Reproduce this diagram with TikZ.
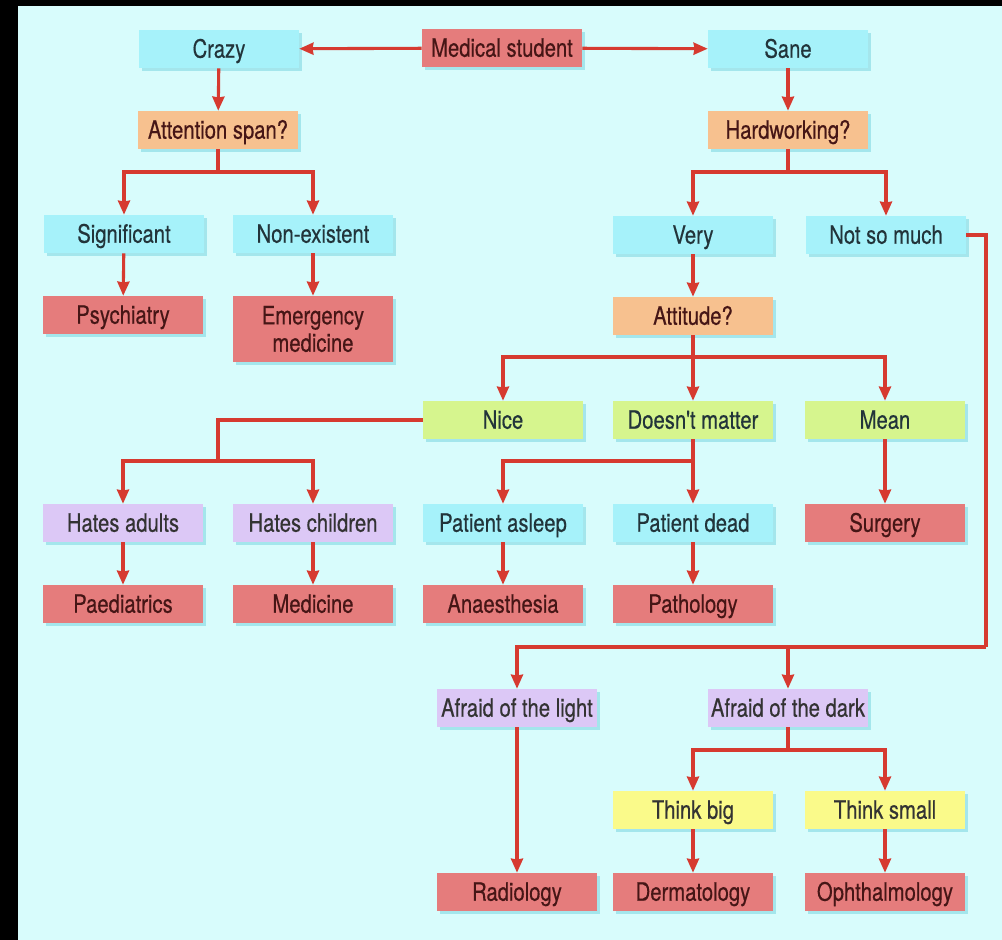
\documentclass[tikz,border=0pt]{standalone}
\usepackage{fontspec}
\setmainfont{TeX Gyre Heros}[FakeStretch=0.8, FakeBold=0.4, Ligatures=TeXOff]
\usetikzlibrary{arrows.meta,shadows}

% colours
\definecolor{bgc}{HTML}{D8FCFC}
\definecolor{cyanc}{HTML}{A6F2FA}
\definecolor{orangec}{HTML}{F7C18F}
\definecolor{redc}{HTML}{E57C7C}
\definecolor{greenc}{HTML}{D6F58E}
\definecolor{lilacc}{HTML}{DCC8F6}
\definecolor{yellowc}{HTML}{FAFA8A}
\definecolor{shadc}{HTML}{A4E6EC}
\definecolor{arrc}{HTML}{D63A30}
\definecolor{txtc}{HTML}{22343A}
\definecolor{redtxt}{HTML}{461616}

\tikzset{
  box/.style={minimum width=4cm, minimum height=0.95cm, inner sep=0pt, align=center,
    text=txtc, font=\fontsize{18}{19.5}\selectfont, text height=13pt, text depth=0.6pt,
    drop shadow={fill=shadc, opacity=1, shadow xshift=2.2pt, shadow yshift=-2.4pt}},
  cyanbox/.style={box, fill=cyanc},
  orangebox/.style={box, fill=orangec, text=redtxt},
  redbox/.style={box, fill=redc, text=redtxt},
  greenbox/.style={box, fill=greenc},
  lilacbox/.style={box, fill=lilacc, text=black!80},
  yellowbox/.style={box, fill=yellowc, text=black!80},
  link/.style={draw=arrc, line width=2.2pt},
  arr/.style={link, -{Stealth[inset=0.6pt, length=10pt, width=8.5pt]}}
}

\begin{document}
\begin{tikzpicture}[x=0.025cm, y=-0.025cm]
  % frame and background
  \useasboundingbox (0,0) rectangle (1002,940);
  \fill[black] (0,0) rectangle (1002,940);
  \fill[bgc] (18,6) rectangle (1002,940);

  % top rows
  \node[redbox] (med) at (502,48) {Medical student};
  \node[cyanbox] (crazy) at (219,49) {Crazy};
  \node[cyanbox] (sane) at (788,49) {Sane};
  \node[orangebox] (attn) at (218,130) {Attention span?};
  \node[orangebox] (hard) at (788,130) {Hardworking?};

  % crazy side
  \node[cyanbox] (signif) at (124,234) {Significant};
  \node[cyanbox] (nonex) at (313,234) {Non-existent};
  \node[redbox] (psych) at (123,315) {Psychiatry};
  \node[redbox, minimum height=1.65cm, text height=, text depth=] (emerg) at (313,329) {Emergency\\medicine};

  % sane side
  \node[cyanbox] (very) at (693,235) {Very};
  \node[cyanbox] (notmuch) at (886,235) {Not so much};
  \node[orangebox] (attit) at (693,316) {Attitude?};
  \node[greenbox] (nice) at (503,420) {Nice};
  \node[greenbox] (nomatter) at (693,420) {Doesn't matter};
  \node[greenbox] (mean) at (885,420) {Mean};

  \node[lilacbox] (hadult) at (123,523) {Hates adults};
  \node[lilacbox] (hchild) at (313,523) {Hates children};
  \node[cyanbox] (asleep) at (503,523) {Patient asleep};
  \node[cyanbox] (dead) at (693,523) {Patient dead};
  \node[redbox] (surg) at (885,523) {Surgery};

  \node[redbox] (paed) at (123,604) {Paediatrics};
  \node[redbox] (medic) at (313,604) {Medicine};
  \node[redbox] (anaes) at (503,604) {Anaesthesia};
  \node[redbox] (path) at (693,604) {Pathology};

  \node[lilacbox] (alight) at (517,708) {Afraid of the light};
  \node[lilacbox] (adark) at (788,708) {Afraid of the dark};
  \node[yellowbox] (tbig) at (693,810) {Think big};
  \node[yellowbox] (tsmall) at (885,810) {Think small};
  \node[redbox] (radio) at (517,892) {Radiology};
  \node[redbox] (derma) at (693,892) {Dermatology};
  \node[redbox] (ophth) at (885,892) {Ophthalmology};

  % junctions
  \coordinate (attnj) at (218,172);
  \coordinate (hardj) at (788,172);
  \coordinate (attitj) at (693,357);
  \coordinate (nicej) at (218,461);
  \coordinate (nomatj) at (693,461);
  \coordinate (nmright) at (986,647);
  \coordinate (darkj) at (788,647);
  \coordinate (adarkj) at (788,750);

  % connectors
  \draw[arr] (med) -- (crazy);
  \draw[arr] (med) -- (sane);
  \draw[arr] (crazy) -- (attn);
  \draw[arr] (sane) -- (hard);

  \draw[link] (attn) -- (attnj);
  \draw[arr] (attnj) -| (signif);
  \draw[arr] (attnj) -| (nonex);
  \draw[arr] (signif) -- (psych);
  \draw[arr] (nonex) -- (emerg);

  \draw[link] (hard) -- (hardj);
  \draw[arr] (hardj) -| (very);
  \draw[arr] (hardj) -| (notmuch);
  \draw[arr] (very) -- (attit);

  \draw[link] (attit) -- (attitj);
  \draw[arr] (attitj) -| (nice);
  \draw[arr] (attitj) -- (nomatter);
  \draw[arr] (attitj) -| (mean);
  \draw[arr] (mean) -- (surg);

  \draw[link] (nice) -| (nicej);
  \draw[arr] (nicej) -| (hadult);
  \draw[arr] (nicej) -| (hchild);
  \draw[arr] (hadult) -- (paed);
  \draw[arr] (hchild) -- (medic);

  \draw[link] (nomatter) -- (nomatj);
  \draw[arr] (nomatj) -| (asleep);
  \draw[arr] (nomatj) -- (dead);
  \draw[arr] (asleep) -- (anaes);
  \draw[arr] (dead) -- (path);

  \draw[link] (notmuch) -| (nmright);
  \draw[arr] (nmright) -| (alight);
  \draw[arr] (darkj) -- (adark);
  \draw[arr] (alight) -- (radio);

  \draw[link] (adark) -- (adarkj);
  \draw[arr] (adarkj) -| (tbig);
  \draw[arr] (adarkj) -| (tsmall);
  \draw[arr] (tbig) -- (derma);
  \draw[arr] (tsmall) -- (ophth);
\end{tikzpicture}
\end{document}
